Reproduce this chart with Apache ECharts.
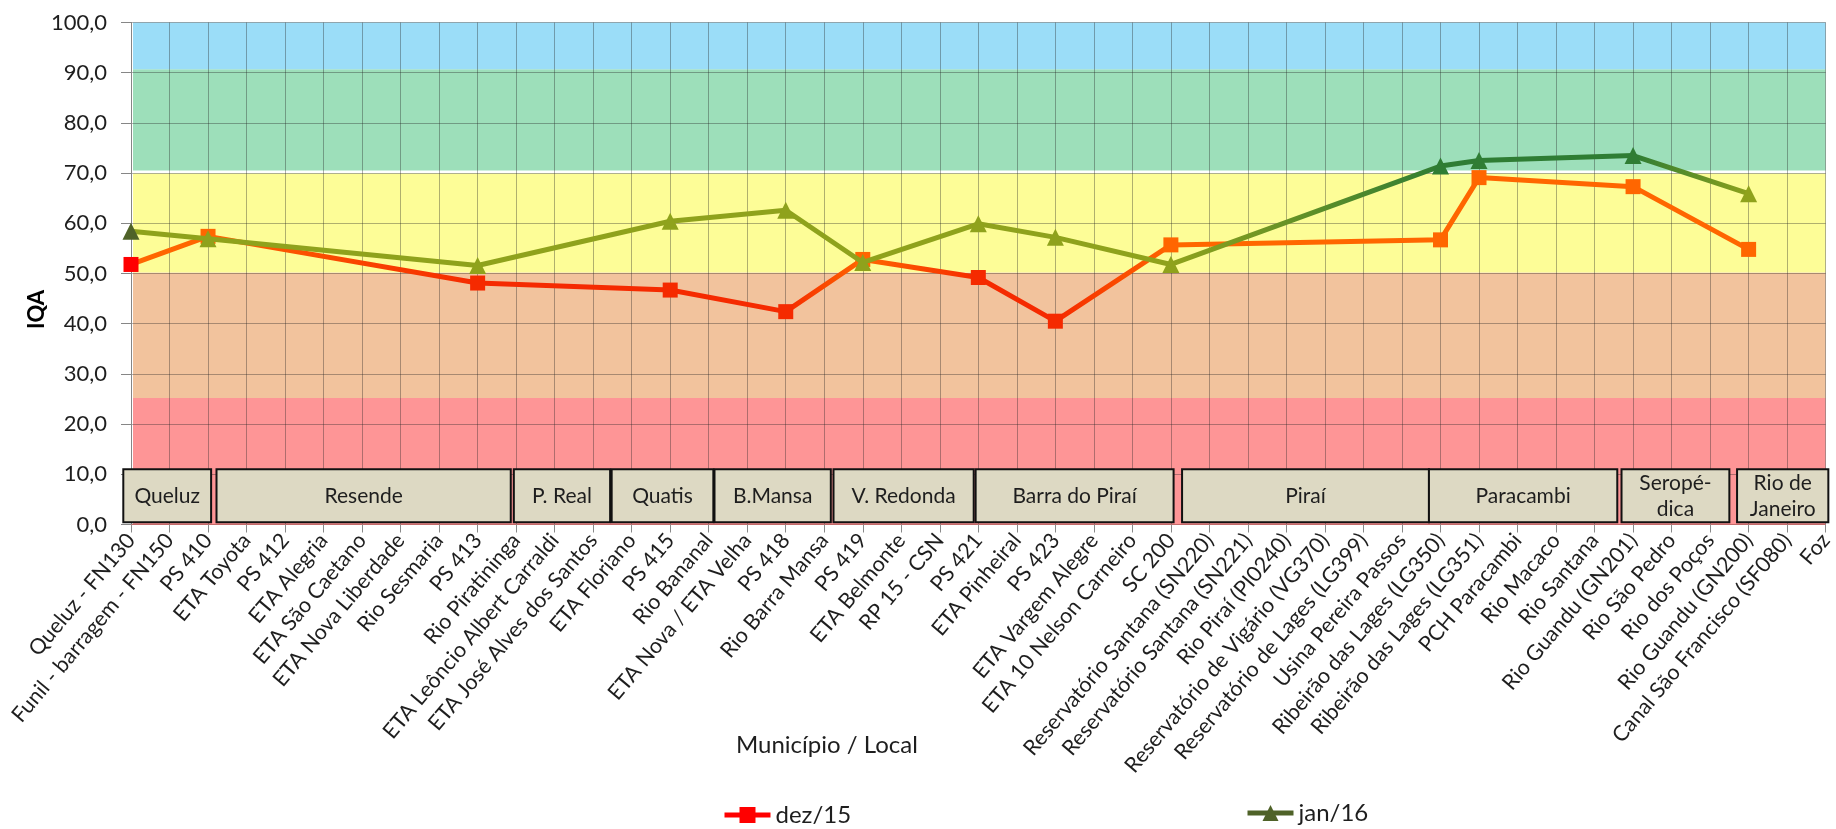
<!DOCTYPE html>
<html>
<head>
<meta charset="utf-8">
<script src="https://cdn.jsdelivr.net/npm/echarts@6/dist/echarts.min.js"></script>
<style>
html,body{margin:0;padding:0;background:#fff;}
#chart{width:1836px;height:829px;}
</style>
</head>
<body>
<div id="chart"></div>
<script>
// ---------- DATA ----------
const categories = [
  'Queluz - FN130','Funil - barragem - FN150','PS 410','ETA Toyota','PS 412','ETA Alegria',
  'ETA São Caetano','ETA Nova Liberdade','Rio Sesmaria','PS 413','Rio Piratininga',
  'ETA Leôncio Albert Carraldi','ETA José Alves dos Santos','ETA Floriano','PS 415','Rio Bananal',
  'ETA Nova / ETA Velha','PS 418','Rio Barra Mansa','PS 419','ETA Belmonte','RP 15 - CSN','PS 421',
  'ETA Pinheiral','PS 423','ETA Vargem Alegre','ETA 10 Nelson Carneiro','SC 200',
  'Reservatório Santana (SN220)','Reservatório Santana (SN221)','Rio Piraí (PI0240)',
  'Reservatório de Vigário (VG370)','Reservatório de Lages (LG399)','Usina Pereira Passos',
  'Ribeirão das Lages (LG350)','Ribeirão das Lages (LG351)','PCH Paracambi','Rio Macaco',
  'Rio Santana','Rio Guandu (GN201)','Rio São Pedro','Rio dos Poços','Rio Guandu (GN200)',
  'Canal São Francisco (SF080)','Foz'
];
const dez15 = [
  51.8, null, 57.4, null, null, null, null, null, null, 48.1, null, null, null, null, 46.7,
  null, null, 42.4, null, 52.8, null, null, 49.2, null, 40.5, null, null, 55.7,
  null, null, null, null, null, null, 56.7, 69.1, null, null, null, 67.3, null, null, 54.8, null, null
];
const jan16 = [
  58.4, null, 56.9, null, null, null, null, null, null, 51.6, null, null, null, null, 60.4,
  null, null, 62.6, null, 52.2, null, null, 59.9, null, 57.2, null, null, 51.8,
  null, null, null, null, null, null, 71.4, 72.5, null, null, null, 73.5, null, null, 65.9, null, null
];
const seriesNames = ['dez/15', 'jan/16'];
// municipality groups (span in category positions)
const munNames = ['Queluz','Resende','P. Real','Quatis','B.Mansa','V. Redonda','Barra do Piraí','Piraí','Paracambi','Seropé-\ndica','Rio de\nJaneiro'];
const munFrom  = [-0.2, 2.22, 9.94, 12.48, 15.15, 18.24, 21.93, 27.29, 33.7, 38.7, 41.7];
const munTo    = [2.08, 9.86, 12.44, 15.12, 18.17, 21.88, 27.07, 33.7, 38.59, 41.5, 44.07];
// quality bands (IQA)
const bandFrom = [0, 25.2, 50.2, 70.5, 90.7];
const bandTo   = [25.2, 50.2, 69.9, 90.7, 100];
const yTicks = {min: 0, max: 100, interval: 10};

// ---------- STYLES ----------
const RED = '#F52A00', ORANGE = '#FF6600', PURE_RED = '#FF0000';
const OLIVE = '#8FA21C', DKGREEN = '#2F7D34', DKOLIVE = '#4F6228';
const bandColors = ['#FE9596', '#F2C39D', '#FDFD97', '#9DDFBA', '#9BDDF8'];
// per point marker colours (in order of the non-empty points)
const dezMarker = [PURE_RED, ORANGE, RED, RED, RED, ORANGE, RED, RED, ORANGE, ORANGE, ORANGE, ORANGE, ORANGE];
const dezLine   = [ORANGE, ORANGE, RED, RED, RED, ORANGE, RED, RED, ORANGE, ORANGE, ORANGE, ORANGE, ORANGE];
const janMarker = [DKOLIVE, OLIVE, OLIVE, OLIVE, OLIVE, OLIVE, OLIVE, OLIVE, OLIVE, DKGREEN, DKGREEN, DKGREEN, OLIVE];
const janLine   = [OLIVE, OLIVE, OLIVE, OLIVE, OLIVE, OLIVE, OLIVE, OLIVE, OLIVE, DKGREEN, DKGREEN, DKGREEN, OLIVE];
const FONT = 'Lato';
const TXT = '#1E1E1E';
const GRID = 'rgba(35,35,35,0.36)';

function buildSeries(values, markerCols, lineCols) {
  const idx = [];
  values.forEach((v, i) => { if (v != null) idx.push(i); });
  const first = idx[0], last = idx[idx.length - 1];
  const stops = idx.map((i, k) => ({offset: (i - first) / (last - first), color: lineCols[k]}));
  let k = 0;
  const data = values.map(v => {
    if (v == null) return '-';
    const d = {value: v, itemStyle: {color: markerCols[k]}};
    k++;
    return d;
  });
  return {data, gradient: new echarts.graphic.LinearGradient(0, 0, 1, 0, stops)};
}

const chart = echarts.init(document.getElementById('chart'), null, {renderer: 'canvas'});
const s1 = buildSeries(dez15, dezMarker, dezLine);
const s2 = buildSeries(jan16, janMarker, janLine);

const option = {
  animation: false,
  backgroundColor: '#fff',
  grid: {left: 131, right: 6, top: 22.5, bottom: 304.5, containLabel: false},
  xAxis: [
    {
      type: 'category', data: categories, boundaryGap: false, z: 3,
      axisLine: {show: true, lineStyle: {color: '#C46A6A', width: 1}},
      axisTick: {show: true, interval: 0, length: 8, lineStyle: {color: '#8A8A8A'}},
      axisLabel: {interval: 0, rotate: 50, margin: 12, fontFamily: FONT, fontSize: 21.5, color: TXT},
      splitLine: {show: true, interval: 0, lineStyle: {color: GRID, width: 1}}
    },
    {type: 'value', min: 0, max: 44, show: false}
  ],
  yAxis: {
    type: 'value', min: yTicks.min, max: yTicks.max, interval: yTicks.interval, z: 3,
    axisLine: {show: true, lineStyle: {color: '#868686'}},
    axisTick: {show: true, length: 10, lineStyle: {color: '#868686'}},
    axisLabel: {margin: 24, fontFamily: FONT, fontSize: 22, color: TXT,
      formatter: v => v.toFixed(1).replace('.', ',')},
    splitLine: {show: true, lineStyle: {color: GRID, width: 1}}
  },
  legend: [
    {left: 717, top: 798, itemWidth: 46, itemHeight: 20, itemGap: 6,
      textStyle: {fontFamily: FONT, fontSize: 24, color: TXT},
      data: [{name: seriesNames[0], itemStyle: {color: PURE_RED}, lineStyle: {color: PURE_RED, width: 5}}]},
    {left: 1240, top: 796, itemWidth: 46, itemHeight: 20, itemGap: 6,
      textStyle: {fontFamily: FONT, fontSize: 24, color: TXT},
      data: [{name: seriesNames[1], itemStyle: {color: DKOLIVE}, lineStyle: {color: DKOLIVE, width: 5}}]}
  ],
  graphic: [
    {type: 'text', left: 26, top: 290, rotation: Math.PI / 2,
      style: {text: 'IQA', font: 'bold 22px ' + FONT, fill: '#000'}},
    {type: 'text', left: 736, top: 733,
      style: {text: 'Município / Local', font: '24px ' + FONT, fill: TXT}}
  ],
  series: [
    {
      type: 'custom', name: 'bands', xAxisIndex: 1, yAxisIndex: 0, z: 1, silent: true,
      data: bandFrom.map((f, i) => [f, bandTo[i], i]),
      renderItem: (params, api) => {
        const p0 = api.coord([0, api.value(1)]);
        const p1 = api.coord([44, api.value(0)]);
        return {type: 'rect', shape: {x: p0[0] + 2, y: p0[1], width: p1[0] - p0[0] - 2, height: p1[1] - p0[1]},
          style: {fill: bandColors[api.value(2)]}};
      }
    },
    {
      type: 'custom', name: 'munic', xAxisIndex: 1, yAxisIndex: 0, z: 6, silent: true, clip: false,
      data: munNames.map((n, i) => [munFrom[i], munTo[i], i]),
      renderItem: (params, api) => {
        const p0 = api.coord([api.value(0), 11.0]);
        const p1 = api.coord([api.value(1), 0.45]);
        const name = munNames[api.value(2)];
        return {type: 'group', children: [
          {type: 'rect', shape: {x: p0[0], y: p0[1], width: p1[0] - p0[0], height: p1[1] - p0[1]},
            style: {fill: '#DDD9C3', stroke: '#111', lineWidth: 2}},
          {type: 'text', style: {text: name, x: (p0[0] + p1[0]) / 2, y: (p0[1] + p1[1]) / 2,
            align: 'center', verticalAlign: 'middle', textAlign: 'center', textVerticalAlign: 'middle',
            font: '21px ' + FONT, lineHeight: 26, fill: TXT}}
        ]};
      }
    },
    {
      type: 'line', name: seriesNames[0], xAxisIndex: 0, yAxisIndex: 0, z: 8,
      data: s1.data, connectNulls: true, symbol: 'rect', symbolSize: 15,
      color: PURE_RED,
      lineStyle: {color: s1.gradient, width: 5}
    },
    {
      type: 'line', name: seriesNames[1], xAxisIndex: 0, yAxisIndex: 0, z: 9,
      data: s2.data, connectNulls: true, symbol: 'triangle', symbolSize: 17,
      color: DKOLIVE,
      lineStyle: {color: s2.gradient, width: 5}
    }
  ]
};
chart.setOption(option);
</script>
</body>
</html>
